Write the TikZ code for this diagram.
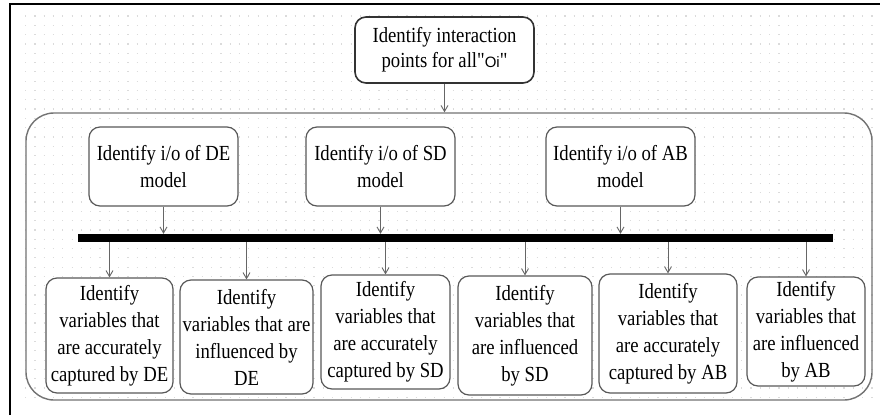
\documentclass[tikz,border=0pt]{standalone}
\usepackage{fontspec}
\setmainfont{Liberation Serif}
\newfontfamily\boxfont[FakeStretch=0.87]{Liberation Serif}
\newfontfamily\oifont{Liberation Sans}
\usetikzlibrary{arrows.meta}
\begin{document}
\begin{tikzpicture}[x=1pt,y=-1pt,
  stepbox/.style={draw=black!65, line width=1.2pt, rounded corners=11pt, fill=white,
    align=center, inner sep=0pt, font=\boxfont\fontsize{21.5}{27}\selectfont},
  topbox/.style={stepbox, draw=black!80, line width=1.6pt, font=\boxfont\fontsize{21.5}{25}\selectfont},
  arr/.style={draw=black!60, line width=0.9pt, -{Straight Barb[length=6pt,width=7pt]}},
  gridrow/.style={gray!28, line width=1.2pt, dash pattern=on 1.2pt off 8.1pt},
  frame/.style={black, line width=2.6pt}]
\useasboundingbox (0,0) rectangle (880,415);
\fill[white] (0,0) rectangle (880,415);

% dotted background grid
\foreach \r in {0,...,41}
  \draw[gridrow] (25,16+\r*9.3) -- (875,16+\r*9.3);

% page frame
\draw[frame] (10,415) -- (10,4) -- (880,4);

% enclosing group
\node[draw=black!55, line width=1.4pt, rounded corners=28pt, minimum width=846pt,
      minimum height=287pt, inner sep=0pt] (outer) at (449,256.5) {};

% top step
\node[topbox, minimum width=179pt, minimum height=66pt] (top) at (444.5,50)
  {Identify interaction\\points for all"{\oifont\fontsize{15}{15}\selectfont Oi}"};

% model i/o steps
\node[stepbox, minimum width=149pt, minimum height=79pt] (de) at (163.5,166.5)
  {Identify i/o of DE\\model};
\node[stepbox, minimum width=149pt, minimum height=79pt] (sd) at (380.5,166.5)
  {Identify i/o of SD\\model};
\node[stepbox, minimum width=149pt, minimum height=79pt] (ab) at (620.5,166.5)
  {Identify i/o of AB\\model};

% synchronisation bar
\node[fill=black, minimum width=755pt, minimum height=8pt, inner sep=0pt] (bar) at (455.5,238) {};

% variable identification steps
\node[stepbox, minimum width=127pt, minimum height=115pt] (b1) at (109.5,335.5)
  {Identify\\variables that\\are accurately\\captured by DE};
\node[stepbox, minimum width=133pt, minimum height=114pt] (b2) at (246.5,337)
  {Identify\\variables that are\\influenced by\\DE};
\node[stepbox, minimum width=129pt, minimum height=114pt] (b3) at (385.5,332)
  {Identify\\variables that\\are accurately\\captured by SD};
\node[stepbox, minimum width=134pt, minimum height=119pt] (b4) at (525,335.5)
  {Identify\\variables that\\are influenced\\by SD};
\node[stepbox, minimum width=138pt, minimum height=119pt] (b5) at (668,333.5)
  {Identify\\variables that\\are accurately\\captured by AB};
\node[stepbox, minimum width=118pt, minimum height=109pt] (b6) at (806,331.5)
  {Identify\\variables that\\are influenced\\by AB};

% connectors
\draw[arr] (top.south) -- (top.south |- outer.north);
\foreach \m in {de,sd,ab}
  \draw[arr] (\m.south) -- (\m.south |- bar.north);
\foreach \b in {b1,b2,b3,b4,b5,b6}
  \draw[arr] (bar.south -| \b.north) -- (\b.north);
\end{tikzpicture}
\end{document}
